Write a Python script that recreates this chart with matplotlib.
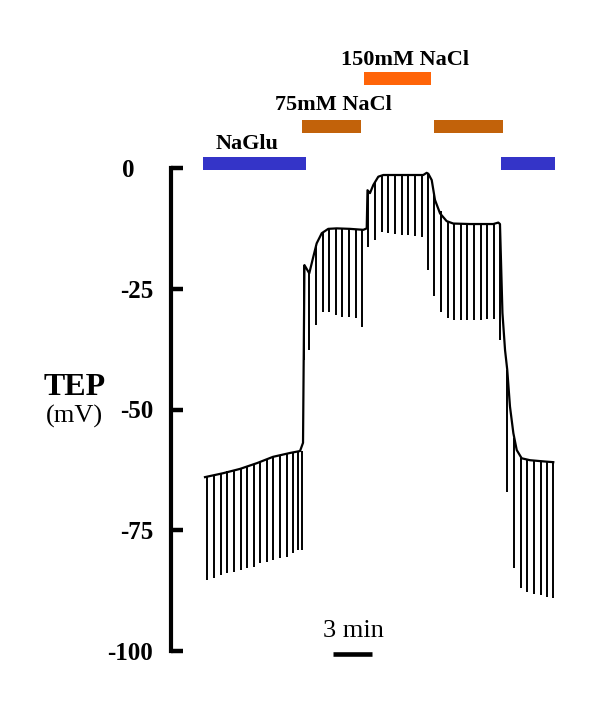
import numpy as np
import matplotlib
matplotlib.use('Agg')
import matplotlib.pyplot as plt
from matplotlib.transforms import ScaledTranslation

plt.rcParams['font.family'] = ['Liberation Serif', 'DejaVu Serif']

# ---- data (time in min, TEP in mV) ----
# upper envelope of the recording
base_t = [0.0, 1.38, 2.69, 4.0, 5.23, 6.54, 7.31, 7.54, 7.65,
          8.02, 8.33, 8.59, 8.98, 9.48, 10.13, 11.15, 12.18, 12.44, 12.50,
          12.69, 12.95, 13.33, 13.72, 15.0, 16.79, 17.05, 17.18,
          17.44, 17.69, 18.08, 18.59, 19.1, 20.38, 22.18, 22.56, 22.69,
          22.88, 23.08, 23.25, 23.46, 23.72, 23.98, 24.36, 25.0, 26.28, 26.79]
base_v = [-64.0, -63.2, -62.3, -61.1, -59.8, -59.0, -58.6, -56.9, -20.1,
          -21.8, -18.4, -15.6, -13.5, -12.6, -12.5, -12.6, -12.8, -12.5, -4.6,
          -5.2, -3.5, -1.8, -1.45, -1.45, -1.45, -1.0, -1.2,
          -2.5, -6.6, -9.4, -11.0, -11.5, -11.6, -11.6, -11.3, -11.6,
          -30.0, -37.7, -41.8, -49.4, -54.9, -58.4, -60.1, -60.5, -60.8, -60.9]

# current pulses: time, top and bottom of each deflection
pulse_t = [0.13, 0.69, 1.21, 1.72, 2.23, 2.75, 3.26, 3.77, 4.23, 4.75, 5.25, 5.77, 6.28, 6.75, 7.18, 7.44,
           7.62, 8.02, 8.54, 9.05, 9.56, 10.05, 10.56, 11.08, 11.59, 12.05,
           12.52, 13.08, 13.59, 14.1, 14.62, 15.13, 15.64, 16.15, 16.67, 17.18,
           17.62, 18.15, 18.67, 19.18, 19.69, 20.18, 20.69, 21.21, 21.72, 22.23, 22.73,
           23.25, 23.77, 24.28, 24.79, 25.31, 25.82, 26.33, 26.8]
pulse_top = [-63.9, -63.6, -63.1, -62.8, -62.6, -62.1, -61.8, -61.3, -60.9, -60.4, -59.8, -59.5, -59.2, -58.9, -58.7, -58.6,
             -20.1, -21.8, -16.0, -13.3, -12.6, -12.5, -12.5, -12.6, -12.7, -12.8,
             -4.6, -3.0, -1.6, -1.45, -1.45, -1.45, -1.45, -1.45, -1.45, -1.2,
             -5.5, -9.0, -10.9, -11.5, -11.6, -11.6, -11.6, -11.6, -11.6, -11.6, -11.6,
             -41.8, -56.0, -60.0, -60.4, -60.6, -60.7, -60.8, -60.9]
pulse_bot = [-85.3, -84.9, -84.3, -83.9, -83.6, -83.2, -82.8, -82.6, -81.8, -81.6, -81.2, -80.7, -80.5, -79.7, -79.1, -79.1,
             -39.8, -37.7, -32.5, -29.8, -29.8, -30.4, -30.8, -30.8, -31.1, -32.9,
             -16.3, -14.9, -13.2, -13.5, -13.7, -13.9, -13.9, -14.1, -14.2, -21.1,
             -26.6, -29.8, -31.1, -31.5, -31.5, -31.5, -31.5, -31.5, -31.3, -31.3, -35.6,
             -67.0, -82.9, -87.0, -87.7, -88.1, -88.4, -88.8, -89.1]

# solution bars
sol_start = [-0.15, 7.46, 12.23, 17.62, 22.77]
sol_end = [7.77, 12.0, 17.38, 22.92, 26.92]
sol_level = [0.93, 8.59, 18.53, 8.59, 0.93]
sol_color = ['#3434c8', '#c2620a', '#ff6408', '#c2620a', '#3434c8']
sol_labels = ['NaGlu', '75mM NaCl', '150mM NaCl']
label_t = [3.23, 9.88, 15.35]
label_v = [3.9, 12.0, 21.3]

yticks = [0, -25, -50, -75, -100]
ytick_labels = ['0', '-25', '-50', '-75', '-100']

# ---- figure ----
fig = plt.figure(figsize=(6, 7.14), dpi=100)
W, H = 600, 714
ax = fig.add_axes([171 / W, 1 - 651 / H, (590 - 171) / W, (651 - 168) / H])
ax.set_xlim(-(205 - 171) / 13, (590 - 205) / 13)
ax.set_ylim(-100, 0)

ax.plot(base_t, base_v, color='black', lw=1.6, clip_on=False)
ax.vlines(pulse_t, pulse_bot, pulse_top, color='black', lw=1.4, clip_on=False)

for s, e, lv, c in zip(sol_start, sol_end, sol_level, sol_color):
    ax.barh(lv, e - s, left=s, height=2.69, color=c, clip_on=False)
for lab, t, v in zip(sol_labels, label_t, label_v):
    ax.text(t, v, lab, ha='center', va='baseline', fontsize=16,
            fontweight='bold', clip_on=False)

# scale bar
ax.plot([9.85, 12.85], [-100.6, -100.6], color='black', lw=3.3,
        solid_capstyle='butt', clip_on=False)
ax.text(11.42, -97.1, '3 min', ha='center', va='baseline', fontsize=19)

# axis styling
for side in ['top', 'right', 'bottom']:
    ax.spines[side].set_visible(False)
ax.spines['left'].set_linewidth(3.0)
ax.set_xticks([])
ax.set_yticks(yticks)
ax.set_yticklabels(ytick_labels, fontsize=18, fontweight='bold')
ax.tick_params(axis='y', direction='in', length=8.6, width=3.2, pad=13)
lab0 = ax.get_yticklabels()[0]
lab0.set_transform(lab0.get_transform() + ScaledTranslation(-0.18, 0, fig.dpi_scale_trans))
ax.patch.set_visible(False)

fig.text(75 / W, 1 - 395 / H, 'TEP', ha='center', va='baseline',
         fontsize=23, fontweight='bold')
fig.text(74 / W, 1 - 423 / H, '(mV)', ha='center', va='baseline', fontsize=19)

fig.savefig('out.png', dpi=100)
